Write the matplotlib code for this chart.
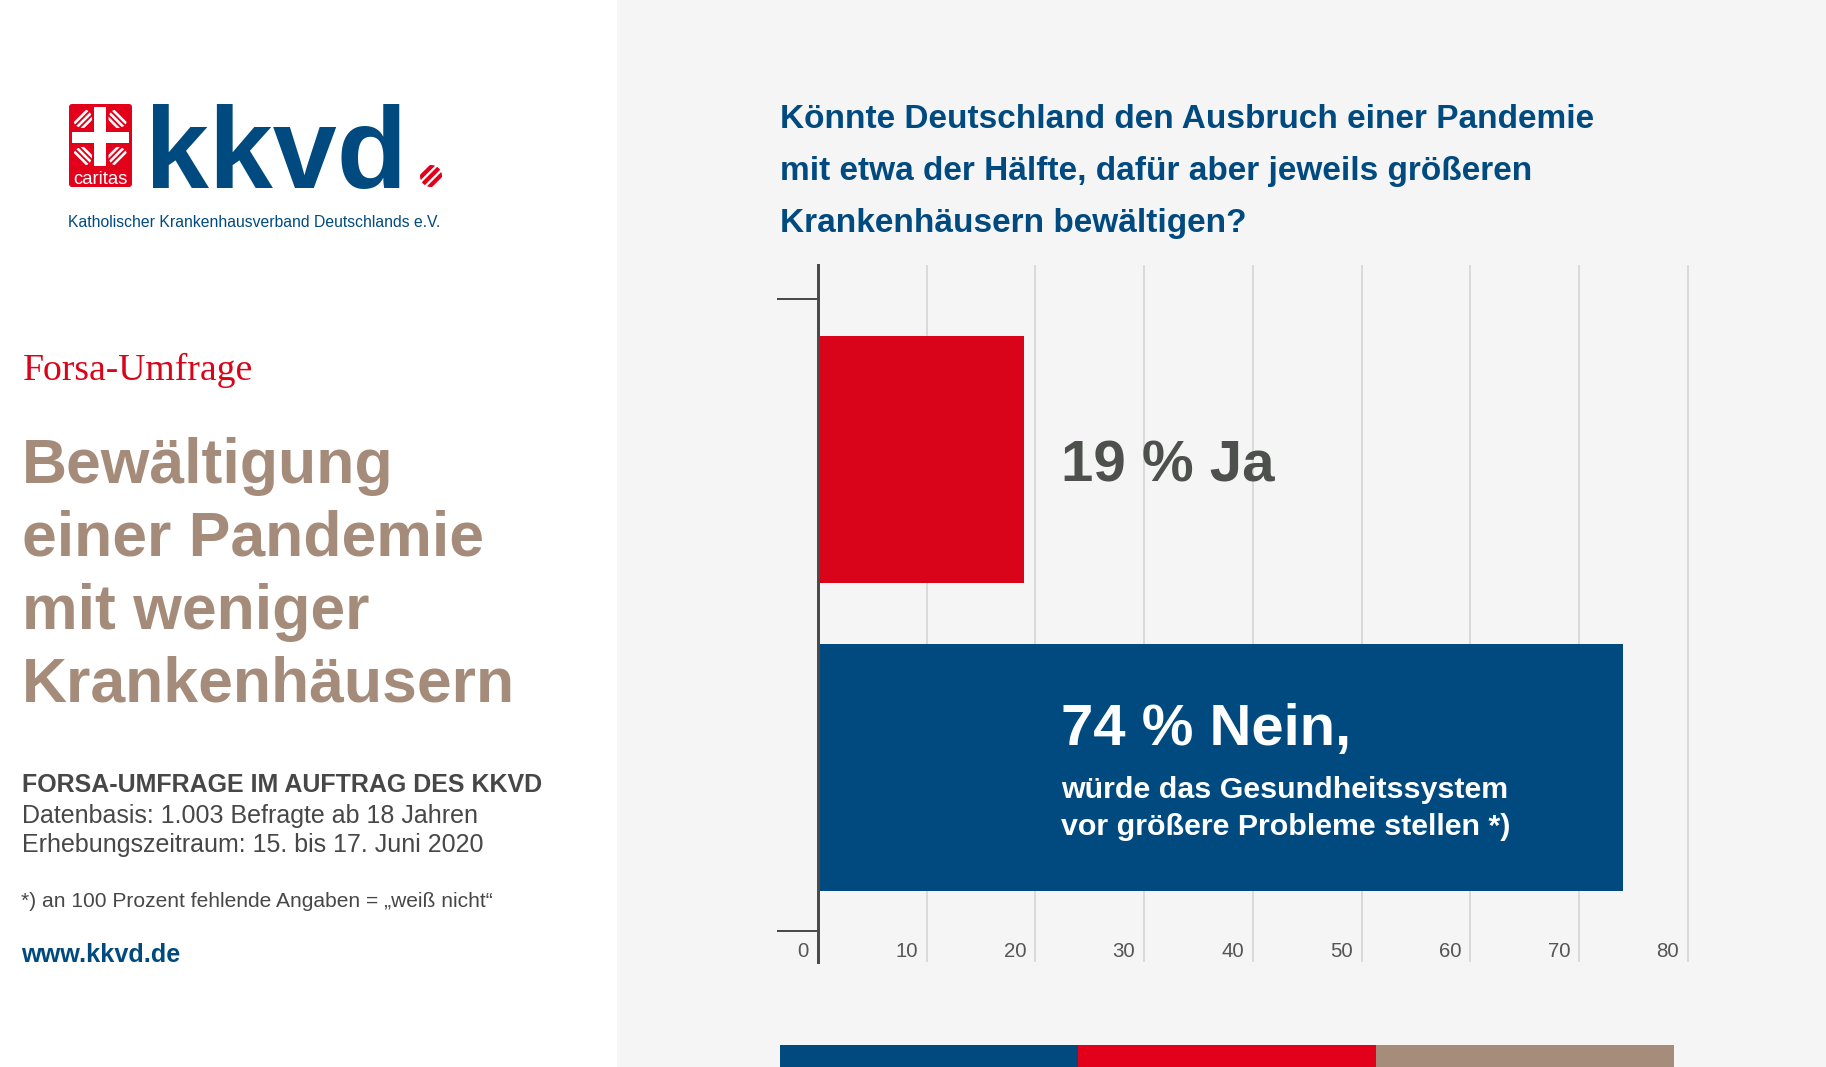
import matplotlib
matplotlib.use("Agg")
import matplotlib.pyplot as plt
from matplotlib.patches import Rectangle, FancyBboxPatch, Circle
import matplotlib.transforms as mtransforms
import numpy as np

# ---------------- data ----------------
categories = ["Ja", "Nein"]
values = [19, 74]
answer_labels = ["Ja", "Nein,"]
nein_note = ["würde das Gesundheitssystem", "vor größere Probleme stellen *)"]
x_ticks = [0, 10, 20, 30, 40, 50, 60, 70, 80]
question_lines = [
    "Könnte Deutschland den Ausbruch einer Pandemie",
    "mit etwa der Hälfte, dafür aber jeweils größeren",
    "Krankenhäusern bewältigen?",
]
headline_lines = ["Bewältigung", "einer Pandemie", "mit weniger", "Krankenhäusern"]
kicker = "Forsa-Umfrage"
info_title = "FORSA-UMFRAGE IM AUFTRAG DES KKVD"
info_lines = ["Datenbasis: 1.003 Befragte ab 18 Jahren",
              "Erhebungszeitraum: 15. bis 17. Juni 2020"]
footnote = "*) an 100 Prozent fehlende Angaben = „weiß nicht“"
website = "www.kkvd.de"
logo_word = "kkvd"
logo_sub = "Katholischer Krankenhausverband Deutschlands e.V."

# ---------------- style ----------------
W, H, DPI = 1826, 1067, 100
PX = 72.0 / DPI
BLUE = "#004a7f"
RED = "#d90419"
RED2 = "#e3001b"
TAN = "#a58c7a"
DARK = "#474747"
BG = "#f4f5f4"
strip_colors = [BLUE, RED2, "#a68c7a"]

plt.rcParams['font.family'] = ['Liberation Sans', 'DejaVu Sans']

fig = plt.figure(figsize=(W / DPI, H / DPI), dpi=DPI)
fig.patch.set_facecolor("white")
bg = fig.add_axes([0, 0, 1, 1])
bg.set_xlim(0, W)
bg.set_ylim(H, 0)
bg.axis("off")

def fs(px):
    return px * PX

# right panel
bg.add_patch(Rectangle((617, 0), W - 617, H, color=BG, lw=0, zorder=0))

# ---------------- logo ----------------
r = 3
bg.add_patch(FancyBboxPatch((69 + r, 104 + r), 63 - 2 * r, 83 - 2 * r,
                            boxstyle=f"round,pad={r}", fc=RED2, ec="none", zorder=2))
bg.add_patch(Rectangle((94.3, 107.3), 11.4, 58.7, color="white", lw=0, zorder=3))
bg.add_patch(Rectangle((71.7, 131.7), 57.3, 11.6, color="white", lw=0, zorder=3))
quad = [((84, 120), (-1, -1)), ((116.5, 120), (1, -1)),
        ((84, 155), (-1, 1)), ((116.5, 155), (1, 1))]
for (cx, cy), (dx, dy) in quad:
    clip = Circle((cx + dx * 1.5, cy + dy * 1.5), 9.5, transform=bg.transData)
    ux, uy = dx / np.sqrt(2), dy / np.sqrt(2)
    px_, py_ = -uy, ux
    for off in (-4.5, 0, 4.5):
        mx, my = cx + ux * off, cy + uy * off
        ln, = bg.plot([mx - px_ * 14, mx + px_ * 14], [my - py_ * 14, my + py_ * 14],
                      color="white", lw=2.6 * PX, solid_capstyle="butt", zorder=4)
        ln.set_clip_path(clip)
bg.text(100.5, 184.0, "caritas", ha="center", va="baseline", color="white",
        fontsize=fs(18.5), zorder=5)

bg.text(145, 188, logo_word, fontsize=fs(115), weight="bold", color=BLUE,
        va="baseline", ha="left", zorder=2)
# red mark
clip = Circle((431, 176), 11, transform=bg.transData)
for off in (-6.5, 0, 6.5):
    mx, my = 431 + off / np.sqrt(2), 176 + off / np.sqrt(2)
    ln, = bg.plot([mx - 15, mx + 15], [my + 15, my - 15], color=RED2,
                  lw=4.2 * PX, solid_capstyle="butt", zorder=3)
    ln.set_clip_path(clip)

bg.text(68, 227.3, logo_sub, fontsize=fs(15.8), color=BLUE, va="baseline")

# ---------------- left text ----------------
bg.text(22.5, 380, kicker, family=["Liberation Serif", "DejaVu Serif"],
        fontsize=fs(37.8), color=RED, va="baseline")
for i, line in enumerate(headline_lines):
    bg.text(21.5, 483.5 + i * 72.5, line, fontsize=fs(62.5), weight="bold",
            color=TAN, va="baseline")
bg.text(22, 792, info_title, fontsize=fs(25.0), weight="bold", color=DARK, va="baseline")
for i, line in enumerate(info_lines):
    bg.text(22, 822.7 + i * 29.2, line, fontsize=fs(25.0), color=DARK, va="baseline")
bg.text(21, 906.7, footnote, fontsize=fs(21.0), color=DARK, va="baseline")
bg.text(21, 961.7, website, fontsize=fs(25.3), weight="bold", color=BLUE, va="baseline")

# ---------------- question ----------------
for i, line in enumerate(question_lines):
    bg.text(780, 127.5 + i * 52.2, line, fontsize=fs(33.4), weight="bold",
            color=BLUE, va="baseline")

# ---------------- bottom strip ----------------
for i, c in enumerate(strip_colors):
    bg.add_patch(Rectangle((780 + i * 298, 1045), 298, 30, color=c, lw=0))

# ---------------- chart ----------------
x0 = 817.8
scale = 10.877
xmax = 80.3
ax = fig.add_axes([x0 / W, (H - 962) / H, xmax * scale / W, (962 - 265) / H])
ax.patch.set_visible(False)
ax.set_xlim(0, xmax)
ax.set_ylim(1.6315, -0.6315)
ypos = list(range(len(categories)))
ax.barh(ypos, values, height=0.8, color=[RED, BLUE], zorder=2)

ax.set_axisbelow(True)
ax.set_xticks(x_ticks)
ax.xaxis.grid(True, color="#d2d2d2", lw=1.5 * PX)
ax.tick_params(axis="x", length=0, labelbottom=False)
ax.set_yticks([-0.52, 1.53])
ax.tick_params(axis="y", direction="out", length=41 * PX, width=2 * PX,
               color="#4a4a4a", labelleft=False)
for s in ("top", "right", "bottom"):
    ax.spines[s].set_visible(False)
ax.spines["left"].set_color("#4a4a4a")
ax.spines["left"].set_linewidth(3 * PX)
ax.spines["left"].set_zorder(5)

tick_tr = mtransforms.offset_copy(ax.get_xaxis_transform(), fig=fig, x=-9, y=0, units="dots")
for v in x_ticks:
    ax.text(v, 0.0067, str(v), transform=tick_tr, ha="right", va="baseline",
            fontsize=fs(20.4), color="#555555")

LABEL_X = 22.35
ax.text(LABEL_X, 0.072, f"{values[0]} % {answer_labels[0]}", fontsize=fs(58.3),
        weight="bold", color="#4d504d", va="baseline", zorder=6)
ax.text(LABEL_X, 0.927, f"{values[1]} % {answer_labels[1]}", fontsize=fs(58),
        weight="bold", color="white", va="baseline", zorder=6)
for i, line in enumerate(nein_note):
    ax.text(LABEL_X + 0.05, 1.099 + i * 0.12, line, fontsize=fs(30.4),
            weight="bold", color="white", va="baseline", zorder=6)

fig.savefig("out.png", dpi=DPI, facecolor=fig.get_facecolor())
